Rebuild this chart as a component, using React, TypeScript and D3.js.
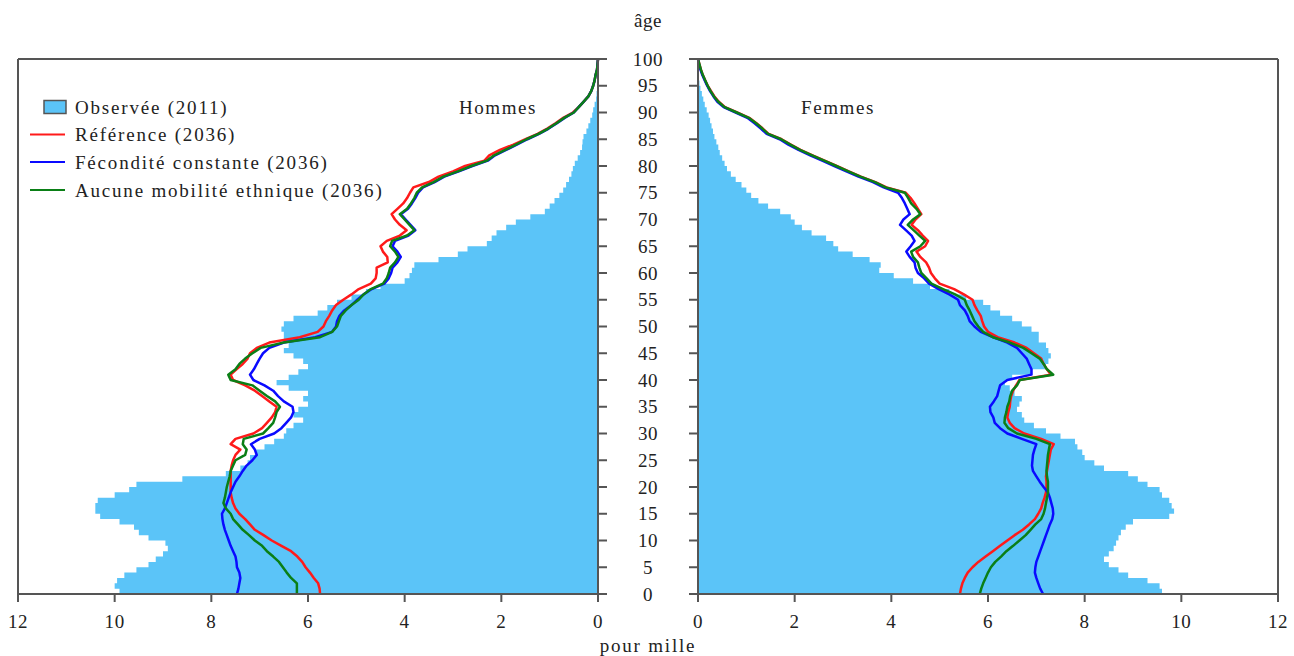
import React from "react";
import * as d3 from "d3";

const ages: number[] = d3.range(0, 101);

const menObserved: number[] = [9.6, 9.9, 10.0, 9.95, 9.8, 9.55, 9.3, 9.15, 9.0, 8.9, 8.95, 9.3, 9.5, 9.6, 9.9, 10.3, 10.4, 10.4, 10.35, 10.0, 9.7, 9.55, 8.6, 7.7, 7.4, 7.25, 7.2, 7.1, 6.9, 6.7, 6.5, 6.45, 6.3, 6.1, 6.3, 6.2, 6.0, 6.1, 6.0, 6.4, 6.65, 6.4, 6.2, 6.0, 6.1, 6.3, 6.5, 6.4, 6.5, 6.5, 6.55, 6.5, 6.3, 5.8, 5.6, 5.4, 5.1, 4.8, 4.5, 4.0, 3.9, 3.85, 3.8, 3.3, 2.9, 2.7, 2.3, 2.2, 2.1, 1.9, 1.7, 1.4, 1.1, 1.0, 0.9, 0.8, 0.72, 0.66, 0.6, 0.55, 0.52, 0.48, 0.42, 0.37, 0.33, 0.32, 0.3, 0.24, 0.2, 0.16, 0.12, 0.1, 0.07, 0.04, 0.03, 0.02, 0.01, 0.01, 0, 0, 0];

const menReference: number[] = [5.75, 5.76, 5.79, 5.88, 5.96, 6.05, 6.12, 6.22, 6.35, 6.55, 6.75, 6.92, 7.1, 7.2, 7.3, 7.42, 7.5, 7.55, 7.58, 7.6, 7.6, 7.6, 7.6, 7.6, 7.58, 7.55, 7.5, 7.4, 7.6, 7.5, 7.13, 6.95, 6.85, 6.75, 6.68, 6.65, 6.8, 6.95, 7.1, 7.3, 7.55, 7.6, 7.48, 7.35, 7.25, 7.2, 7.06, 6.8, 6.17, 5.8, 5.68, 5.63, 5.56, 5.5, 5.42, 5.27, 5.1, 4.95, 4.7, 4.6, 4.58, 4.58, 4.35, 4.36, 4.45, 4.5, 4.37, 4.1, 3.96, 4.1, 4.2, 4.27, 4.15, 4.03, 3.95, 3.89, 3.82, 3.5, 3.3, 3.0, 2.75, 2.35, 2.25, 2.03, 1.75, 1.5, 1.25, 1.05, 0.88, 0.72, 0.52, 0.4, 0.3, 0.2, 0.14, 0.1, 0.07, 0.05, 0.02, 0.01, 0];

const menConstantFertility: number[] = [7.47, 7.44, 7.42, 7.4, 7.42, 7.47, 7.48, 7.5, 7.55, 7.6, 7.64, 7.68, 7.72, 7.75, 7.77, 7.78, 7.72, 7.68, 7.64, 7.6, 7.55, 7.5, 7.42, 7.35, 7.27, 7.15, 7.06, 7.1, 7.18, 7.0, 6.7, 6.55, 6.45, 6.35, 6.3, 6.32, 6.5, 6.62, 6.72, 6.9, 7.13, 7.2, 7.12, 7.06, 7.0, 6.93, 6.8, 6.5, 5.85, 5.5, 5.42, 5.4, 5.35, 5.25, 5.1, 4.98, 4.85, 4.68, 4.42, 4.33, 4.28, 4.25, 4.15, 4.08, 4.15, 4.25, 4.2, 3.92, 3.78, 3.88, 3.98, 4.08, 3.93, 3.85, 3.78, 3.72, 3.62, 3.38, 3.18, 2.88, 2.6, 2.28, 2.13, 1.9, 1.68, 1.46, 1.22, 1.02, 0.85, 0.69, 0.5, 0.4, 0.3, 0.2, 0.14, 0.1, 0.07, 0.05, 0.02, 0.01, 0];

const menNoMobility: number[] = [6.23, 6.23, 6.23, 6.35, 6.44, 6.52, 6.6, 6.72, 6.85, 6.95, 7.1, 7.22, 7.35, 7.45, 7.55, 7.6, 7.7, 7.75, 7.72, 7.7, 7.68, 7.65, 7.62, 7.6, 7.55, 7.5, 7.3, 7.27, 7.35, 7.33, 6.93, 6.82, 6.72, 6.68, 6.65, 6.58, 6.68, 6.85, 7.0, 7.15, 7.6, 7.65, 7.5, 7.42, 7.3, 7.15, 6.98, 6.5, 5.75, 5.5, 5.4, 5.36, 5.32, 5.22, 5.1, 4.95, 4.85, 4.7, 4.45, 4.37, 4.33, 4.3, 4.2, 4.13, 4.2, 4.3, 4.26, 3.95, 3.8, 3.9, 4.0, 4.1, 3.95, 3.87, 3.8, 3.75, 3.64, 3.4, 3.2, 2.9, 2.62, 2.3, 2.15, 1.92, 1.7, 1.48, 1.23, 1.03, 0.86, 0.7, 0.5, 0.4, 0.3, 0.2, 0.14, 0.1, 0.07, 0.05, 0.02, 0.01, 0];

const womenObserved: number[] = [9.62, 9.6, 9.55, 9.3, 8.9, 8.7, 8.5, 8.4, 8.5, 8.6, 8.65, 8.7, 8.75, 8.85, 9.0, 9.75, 9.85, 9.8, 9.75, 9.6, 9.55, 9.3, 9.1, 8.9, 8.4, 8.2, 8.0, 7.95, 7.85, 7.8, 7.5, 7.2, 6.95, 6.75, 6.7, 6.6, 6.65, 6.7, 6.55, 6.45, 6.35, 6.5, 6.9, 7.2, 7.25, 7.3, 7.25, 7.2, 7.05, 7.05, 6.9, 6.7, 6.5, 6.25, 6.05, 5.9, 5.55, 5.2, 4.8, 4.45, 4.05, 3.75, 3.78, 3.55, 3.2, 2.9, 2.8, 2.65, 2.35, 2.15, 2.0, 1.92, 1.7, 1.45, 1.25, 1.1, 1.0, 0.9, 0.78, 0.68, 0.6, 0.55, 0.5, 0.45, 0.42, 0.38, 0.34, 0.31, 0.28, 0.25, 0.22, 0.18, 0.14, 0.11, 0.08, 0.05, 0.03, 0.02, 0.01, 0, 0];

const womenReference: number[] = [5.42, 5.44, 5.47, 5.52, 5.58, 5.68, 5.8, 5.95, 6.1, 6.25, 6.4, 6.55, 6.72, 6.85, 6.97, 7.04, 7.1, 7.13, 7.17, 7.2, 7.21, 7.21, 7.2, 7.22, 7.24, 7.26, 7.28, 7.3, 7.36, 7.1, 6.75, 6.55, 6.45, 6.4, 6.42, 6.45, 6.46, 6.48, 6.52, 6.58, 6.65, 7.3, 7.22, 7.15, 7.1, 6.95, 6.8, 6.55, 6.2, 6.0, 5.92, 5.88, 5.85, 5.78, 5.72, 5.68, 5.5, 5.3, 5.0, 4.9, 4.82, 4.78, 4.72, 4.6, 4.52, 4.7, 4.76, 4.65, 4.55, 4.42, 4.5, 4.62, 4.55, 4.48, 4.4, 4.3, 3.9, 3.67, 3.37, 3.12, 2.87, 2.62, 2.37, 2.12, 1.92, 1.73, 1.46, 1.34, 1.21, 1.06, 0.81, 0.56, 0.43, 0.34, 0.27, 0.2, 0.15, 0.1, 0.06, 0.03, 0];

const womenConstantFertility: number[] = [7.14, 7.08, 7.04, 7.0, 6.97, 6.98, 7.0, 7.04, 7.08, 7.12, 7.16, 7.2, 7.24, 7.28, 7.33, 7.35, 7.34, 7.31, 7.28, 7.24, 7.15, 7.07, 7.0, 6.93, 6.91, 6.92, 6.93, 6.96, 7.0, 6.7, 6.4, 6.25, 6.14, 6.11, 6.05, 6.04, 6.12, 6.19, 6.22, 6.25, 6.4, 6.9, 6.9, 6.85, 6.8, 6.7, 6.6, 6.4, 6.1, 5.85, 5.72, 5.62, 5.58, 5.52, 5.42, 5.38, 5.2, 4.98, 4.78, 4.68, 4.55, 4.5, 4.48, 4.38, 4.31, 4.4, 4.48, 4.42, 4.3, 4.18, 4.25, 4.38, 4.33, 4.28, 4.22, 4.14, 3.84, 3.62, 3.32, 3.07, 2.82, 2.57, 2.32, 2.08, 1.87, 1.69, 1.42, 1.3, 1.17, 1.02, 0.78, 0.53, 0.4, 0.32, 0.25, 0.19, 0.14, 0.09, 0.05, 0.02, 0];

const womenNoMobility: number[] = [5.83, 5.86, 5.9, 5.95, 6.0, 6.06, 6.15, 6.27, 6.38, 6.52, 6.65, 6.78, 6.88, 6.98, 7.1, 7.15, 7.18, 7.2, 7.22, 7.24, 7.24, 7.24, 7.22, 7.21, 7.22, 7.23, 7.24, 7.26, 7.28, 7.0, 6.6, 6.42, 6.34, 6.35, 6.38, 6.4, 6.44, 6.46, 6.5, 6.6, 6.66, 7.35, 7.22, 7.15, 7.07, 6.9, 6.73, 6.45, 6.1, 5.9, 5.8, 5.72, 5.67, 5.62, 5.56, 5.52, 5.32, 5.07, 4.83, 4.73, 4.62, 4.58, 4.55, 4.45, 4.41, 4.6, 4.7, 4.58, 4.46, 4.34, 4.45, 4.6, 4.52, 4.41, 4.35, 4.28, 3.88, 3.66, 3.36, 3.11, 2.86, 2.61, 2.36, 2.11, 1.91, 1.72, 1.45, 1.33, 1.2, 1.05, 0.8, 0.55, 0.42, 0.33, 0.26, 0.2, 0.15, 0.1, 0.06, 0.03, 0];

const ageTicks: number[] = d3.range(0, 101, 5);
const valueTicks: number[] = [0, 2, 4, 6, 8, 10, 12];

const legendLabels: string[] = [
  "Observée (2011)",
  "Référence (2036)",
  "Fécondité constante (2036)",
  "Aucune mobilité ethnique (2036)",
];

const OBS_FILL = "#5BC4F8";
const RED = "#FF1A1A";
const BLUE = "#0A0AFF";
const GREEN = "#0A7F16";
const AXIS = "#555555";
const TEXT = "#222222";
const FONT = "'Liberation Serif', 'Times New Roman', serif";

export default function App() {
  const W = 1294;
  const H = 656;
  const top = 59;
  const bottom = 594;
  const leftX0 = 598;
  const leftX12 = 18;
  const rightX0 = 698;
  const rightX12 = 1278;

  const y = d3.scaleLinear().domain([0, 100]).range([bottom, top]);
  const xL = d3.scaleLinear().domain([0, 12]).range([leftX0, leftX12]);
  const xR = d3.scaleLinear().domain([0, 12]).range([rightX0, rightX12]);

  const areaFor = (x: d3.ScaleLinear<number, number>, vals: number[]) =>
    d3
      .area<number>()
      .y((a) => y(a))
      .x0(() => x(0))
      .x1((a) => x(vals[a]))
      .curve(d3.curveStepAfter)(ages) || "";

  const lineFor = (x: d3.ScaleLinear<number, number>, vals: number[]) =>
    d3
      .line<number>()
      .y((a) => y(a))
      .x((a) => x(vals[a]))(ages) || "";

  const seriesL = [
    { vals: menReference, color: RED },
    { vals: menConstantFertility, color: BLUE },
    { vals: menNoMobility, color: GREEN },
  ];
  const seriesR = [
    { vals: womenReference, color: RED },
    { vals: womenConstantFertility, color: BLUE },
    { vals: womenNoMobility, color: GREEN },
  ];

  const legendRowY = [107, 134.5, 162, 190];
  const legendColors = [OBS_FILL, RED, BLUE, GREEN];

  return (
    <svg width={W} height={H} style={{ display: "block", position: "absolute", left: 0, top: 0 }}>
      <rect x={0} y={0} width={W} height={H} fill="#ffffff" />

      <path d={areaFor(xL, menObserved)} fill={OBS_FILL} stroke="none" />
      <path d={areaFor(xR, womenObserved)} fill={OBS_FILL} stroke="none" />

      {seriesL.map((s, i) => (
        <path key={"l" + i} d={lineFor(xL, s.vals)} fill="none" stroke={s.color} strokeWidth={2.5} strokeLinejoin="round" />
      ))}
      {seriesR.map((s, i) => (
        <path key={"r" + i} d={lineFor(xR, s.vals)} fill="none" stroke={s.color} strokeWidth={2.5} strokeLinejoin="round" />
      ))}

      <g stroke={AXIS} strokeWidth={2} fill="none">
        <line x1={leftX12} x2={leftX0} y1={top} y2={top} />
        <line x1={leftX12} x2={leftX12} y1={top} y2={bottom} />
        <line x1={leftX0} x2={leftX0} y1={top} y2={bottom} />
        <line x1={leftX12} x2={leftX0} y1={bottom} y2={bottom} />
        <line x1={rightX0} x2={rightX12} y1={top} y2={top} />
        <line x1={rightX12} x2={rightX12} y1={top} y2={bottom} />
        <line x1={rightX0} x2={rightX0} y1={top} y2={bottom} />
        <line x1={rightX0} x2={rightX12} y1={bottom} y2={bottom} />
      </g>

      <g stroke={AXIS} strokeWidth={2}>
        {ageTicks.map((a) => (
          <g key={"at" + a}>
            <line x1={leftX0} x2={leftX0 + 9} y1={y(a)} y2={y(a)} />
            <line x1={rightX0 - 9} x2={rightX0} y1={y(a)} y2={y(a)} />
          </g>
        ))}
      </g>
      <g fontFamily={FONT} fontSize={19} fill={TEXT} textAnchor="middle" letterSpacing={0.6}>
        {ageTicks.map((a) => (
          <text key={"al" + a} x={648} y={y(a)} dy="0.35em">
            {a}
          </text>
        ))}
        <text x={648} y={27}>âge</text>
      </g>

      <g stroke={AXIS} strokeWidth={2}>
        {valueTicks.map((v) => (
          <g key={"vt" + v}>
            <line x1={xL(v)} x2={xL(v)} y1={bottom} y2={bottom + 8} />
            <line x1={xR(v)} x2={xR(v)} y1={bottom} y2={bottom + 8} />
          </g>
        ))}
      </g>
      <g fontFamily={FONT} fontSize={19} fill={TEXT} textAnchor="middle" letterSpacing={0.6}>
        {valueTicks.map((v) => (
          <g key={"vl" + v}>
            <text x={xL(v)} y={628}>{v}</text>
            <text x={xR(v)} y={628}>{v}</text>
          </g>
        ))}
        <text x={648} y={652} letterSpacing={1.8}>pour mille</text>
      </g>

      <g fontFamily={FONT} fontSize={19} fill={TEXT} textAnchor="middle" letterSpacing={1.6}>
        <text x={498} y={114}>Hommes</text>
        <text x={838} y={114}>Femmes</text>
      </g>

      <g fontFamily={FONT} fontSize={19} fill={TEXT} letterSpacing={1.8}>
        {legendLabels.map((lab, i) => (
          <g key={"lg" + i}>
            {i === 0 ? (
              <rect x={44} y={legendRowY[i] - 6.5} width={22} height={13} fill={OBS_FILL} stroke={AXIS} strokeWidth={1.5} />
            ) : (
              <line x1={30} x2={65} y1={legendRowY[i]} y2={legendRowY[i]} stroke={legendColors[i]} strokeWidth={2} />
            )}
            <text x={75} y={legendRowY[i]} dy="0.35em">
              {lab}
            </text>
          </g>
        ))}
      </g>
    </svg>
  );
}
